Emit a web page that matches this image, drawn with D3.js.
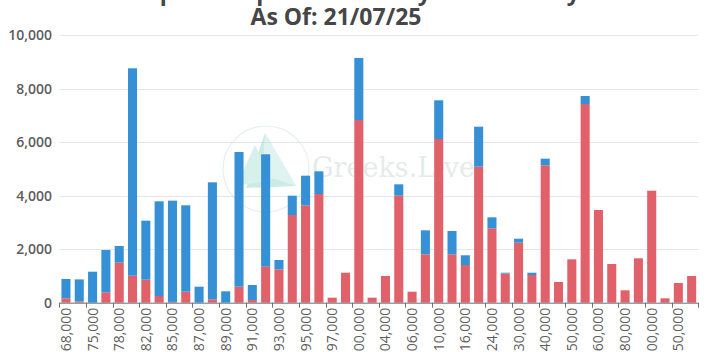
<!DOCTYPE html>
<html><head><meta charset="utf-8">
<script src="https://cdn.jsdelivr.net/npm/d3@7"></script>
<style>
html,body{margin:0;padding:0;background:#fff;}
svg{display:block;}
</style></head>
<body>
<svg id="chart" width="710" height="352"></svg>
<script>
// ---- data ----
const strikes = ["68,000","70,000","75,000","76,000","78,000","80,000","82,000","84,000","85,000","86,000",
  "87,000","88,000","89,000","90,000","91,000","92,000","93,000","94,000","95,000","96,000",
  "97,000","98,000","100,000","102,000","104,000","105,000","106,000","108,000","110,000","112,000",
  "116,000","120,000","124,000","125,000","130,000","135,000","140,000","145,000","150,000","155,000",
  "160,000","170,000","180,000","190,000","200,000","220,000","250,000","300,000"];
const redValues = [164,50,0,388,1495,1009,860,250,30,411,
  0,127,0,598,100,1345,1246,3276,3638,4060,
  187,1121,6825,187,997,3998,411,1808,6115,1808,
  1408,5081,2779,1090,2241,1035,5132,773,1620,7422,
  3463,1446,463,1658,4184,164,736,997];
const blueValues = [721,820,1158,1581,623,7747,2204,3537,3782,3227,
  598,4370,425,5031,561,4198,349,722,1107,847,
  0,0,2316,0,0,424,0,895,1446,870,
  363,1494,411,30,150,86,248,0,0,299,
  0,0,0,0,0,0,0,0];
const yTicks = [0,2000,4000,6000,8000,10000];
const titleLines = ["BTC Options Open Interest by Strike Today", "As Of: 21/07/25"];

// ---- layout ----
const W = 710, H = 352;
const m = {left: 59.3, right: 710 - 698.3, top: 35, bottom: 352 - 302.7};
const svg = d3.select("#chart");
const font = "'Open Sans', 'Noto Sans', sans-serif";

const x = d3.scaleBand().domain(strikes).range([m.left, W - m.right]).paddingInner(0.32).paddingOuter(0.16);
const y = d3.scaleLinear().domain([0, 10000]).range([H - m.bottom, m.top]);

// gridlines
svg.append("g").selectAll("line").data(yTicks.filter(d => d > 0)).join("line")
  .attr("x1", m.left).attr("x2", W - m.right)
  .attr("y1", d => Math.round(y(d)) + 0.5).attr("y2", d => Math.round(y(d)) + 0.5)
  .attr("stroke", "#e3e6ec").attr("stroke-width", 1);

// watermark
const wm = svg.append("g").attr("opacity", 0.45);
wm.append("circle").attr("cx", 266).attr("cy", 169).attr("r", 43)
  .attr("fill", "none").attr("stroke", "#c9dcdc").attr("stroke-width", 1.2);
wm.append("path").attr("d", "M265,133 L296,186 L246,188 Z").attr("fill", "#8fd3c8");
wm.append("path").attr("d", "M255,145 L272,180 L236,186 Z").attr("fill", "#a9e0d7");
wm.append("path").attr("d", "M265,133 L262,175 L296,186 Z").attr("fill", "#b9e6df");
wm.append("text").attr("x", 312).attr("y", 177).attr("font-family", "'DejaVu Serif', 'Liberation Serif', serif")
  .attr("font-size", 27).attr("fill", "#c7d3d3").text("Greeks.Live");

// stacked bars
const stackData = strikes.map((s, i) => ({strike: s, red: redValues[i], blue: blueValues[i]}));
const series = d3.stack().keys(["red", "blue"])(stackData);
const colors = {red: "#e0616a", blue: "#3590d6"};
svg.append("g").selectAll("g").data(series).join("g")
  .attr("fill", d => colors[d.key])
  .selectAll("rect").data(d => d.filter(p => p[1] - p[0] > 0)).join("rect")
  .attr("x", d => x(d.data.strike))
  .attr("width", x.bandwidth())
  .attr("y", d => y(d[1]))
  .attr("height", d => y(d[0]) - y(d[1]));

// y axis labels
svg.append("g").selectAll("text").data(yTicks).join("text")
  .attr("x", 52).attr("y", d => y(d) + 5)
  .attr("text-anchor", "end").attr("font-family", font).attr("font-size", 14)
  .attr("font-weight", 600).attr("fill", "#5d5d5d")
  .text(d => d3.format(",")(d));

// x axis line & ticks (ticks at category boundaries, every 2 categories)
const xAxisY = y(0);
svg.append("line").attr("x1", m.left).attr("x2", W - m.right)
  .attr("y1", xAxisY + 0.5).attr("y2", xAxisY + 0.5).attr("stroke", "#6e7079");
const tickIdx = d3.range(0, strikes.length + 1, 2);
svg.append("g").selectAll("line").data(tickIdx).join("line")
  .attr("x1", i => Math.round(m.left + i * (W - m.right - m.left) / strikes.length) + 0.5)
  .attr("x2", i => Math.round(m.left + i * (W - m.right - m.left) / strikes.length) + 0.5)
  .attr("y1", xAxisY).attr("y2", xAxisY + 5).attr("stroke", "#6e7079");

// x labels (rotated)
svg.append("g").selectAll("text").data(strikes.filter((d, i) => i % 2 === 0)).join("text")
  .attr("transform", d => `translate(${x(d) + x.bandwidth() / 2 + 5},${xAxisY + 5}) rotate(-90)`)
  .attr("text-anchor", "end").attr("font-family", font).attr("font-size", 14)
  .attr("fill", "#5d5d5d").text(d => d);

// title
svg.append("g").selectAll("text").data(titleLines).join("text")
  .attr("x", 336).attr("y", (d, i) => 0 + i * 25)
  .attr("text-anchor", "middle").attr("font-family", font).attr("font-size", 23)
  .attr("font-weight", 700).attr("fill", "#464646").text(d => d);
</script>
</body></html>
